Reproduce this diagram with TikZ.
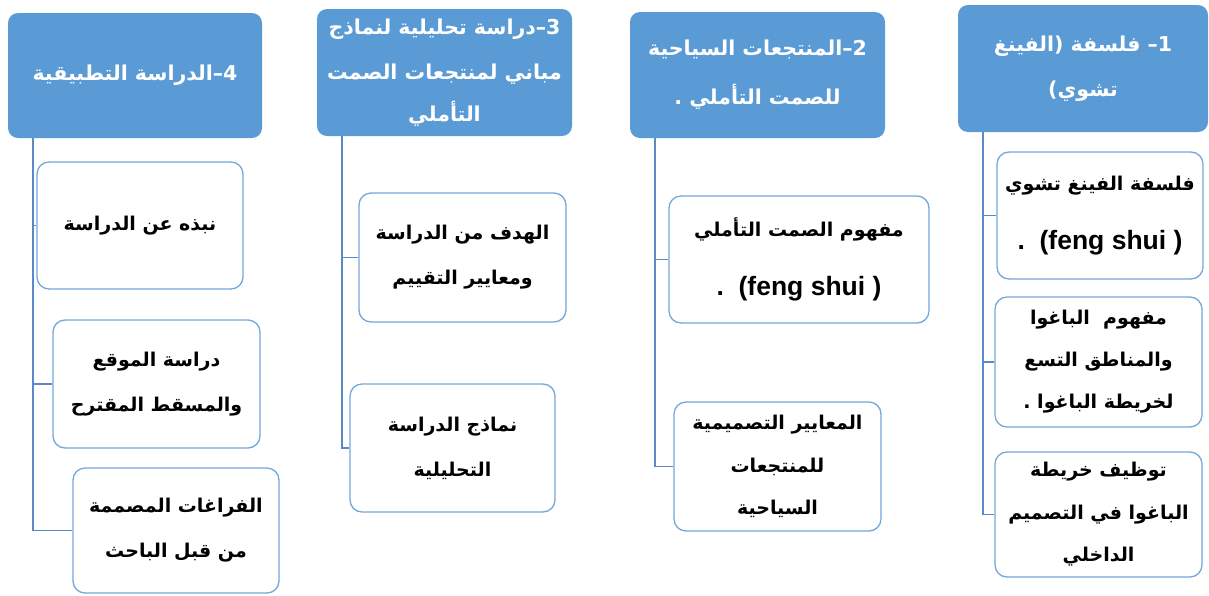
\documentclass[tikz,border=0pt]{standalone}
\usepackage{fontspec}
\TeXXeTstate=1
\newfontfamily\arabicfont[Script=Arabic]{DejaVu Sans}
\newfontfamily\latfont{Liberation Sans}
\newcommand{\ar}[1]{{\arabicfont\bfseries\beginR #1\endR}}
\newcommand{\lt}[1]{{\latfont\bfseries\fontsize{26.5}{30}\selectfont #1}}
\definecolor{headblue}{HTML}{5B9BD5}
\definecolor{linkblue}{HTML}{5A8AC6}
\definecolor{boxline}{HTML}{74A7DA}
\tikzset{
  headbox/.style={draw=none, fill=headblue, rounded corners=10pt, inner sep=0pt, align=center, text=white,
    font={\fontsize{20.5}{45}\selectfont}},
  childbox/.style={draw=boxline, line width=1.3pt, fill=white, rounded corners=12pt, inner sep=0pt, align=center, text=black,
    font={\fontsize{19}{45}\selectfont}},
  link/.style={draw=linkblue, line width=1.6pt}
}
\begin{document}
\begin{tikzpicture}[x=1pt,y=-1pt]
\useasboundingbox (0,0) rectangle (1209,595);
% headers
\node[headbox, minimum width=250pt, minimum height=127pt] (h1) at (1083,68.5)
  {\ar{1– فلسفة (الفينغ}\\\ar{تشوي)}};
\node[headbox, minimum width=255pt, minimum height=126pt] (h2) at (757.5,75)
  {\ar{2–المنتجعات السياحية}\\[4pt]\ar{للصمت التأملي .}};
\node[headbox, minimum width=255pt, minimum height=127pt] (h3) at (444.5,72.5)
  {\ar{3–دراسة تحليلية لنماذج}\\\ar{مباني لمنتجعات الصمت}\\[-3pt]\ar{التأملي}};
\node[headbox, minimum width=254pt, minimum height=125pt] (h4) at (135,75.5)
  {\ar{4–الدراسة التطبيقية}};
% column 1
\node[childbox, minimum width=206pt, minimum height=127pt] (c1a) at (1100,215.5)
  {\ar{فلسفة الفينغ تشوي}\\[14pt]\lt{.~~(feng shui )}};
\node[childbox, minimum width=207pt, minimum height=130pt] (c1b) at (1098.5,362)
  {\ar{مفهوم ~الباغوا}\\[-3pt]\ar{والمناطق التسع}\\[-3pt]\ar{لخريطة الباغوا .}};
\node[childbox, minimum width=207pt, minimum height=125pt] (c1c) at (1098.5,514.5)
  {\ar{توظيف خريطة}\\[-2pt]\ar{الباغوا في التصميم}\\[-3pt]\ar{الداخلي}};
% column 2
\node[childbox, minimum width=260pt, minimum height=127pt] (c2a) at (799,259.5)
  {\ar{مفهوم الصمت التأملي}\\[14pt]\lt{.~~(feng shui )}};
\node[childbox, minimum width=207pt, minimum height=129pt] (c2b) at (777.5,466.5)
  {\ar{المعايير التصميمية}\\[-2pt]\ar{للمنتجعات}\\[-3pt]\ar{السياحية}};
% column 3
\node[childbox, minimum width=207pt, minimum height=129pt] (c3a) at (462.5,257.5)
  {\ar{الهدف من الدراسة}\\\ar{ومعايير التقييم}};
\node[childbox, minimum width=205pt, minimum height=128pt] (c3b) at (452.5,448)
  {\ar{نماذج الدراسة}\\\ar{التحليلية}};
% column 4
\node[childbox, minimum width=206pt, minimum height=127pt] (c4a) at (140,225.5)
  {\ar{نبذه عن الدراسة}};
\node[childbox, minimum width=207pt, minimum height=128pt] (c4b) at (156.5,384)
  {\ar{دراسة الموقع}\\\ar{والمسقط المقترح}};
\node[childbox, minimum width=206pt, minimum height=125pt] (c4c) at (176,530.5)
  {\ar{الفراغات المصممة}\\\ar{من قبل الباحث}};
% trunk start points
\coordinate (t1) at ([xshift=25pt]h1.south west);
\coordinate (t2) at ([xshift=25pt]h2.south west);
\coordinate (t3) at ([xshift=25pt]h3.south west);
\coordinate (t4) at ([xshift=25pt]h4.south west);
% connectors
\draw[link] (t1) |- (c1a.west);
\draw[link] (t1) |- (c1b.west);
\draw[link] (t1) |- (c1c.west);
\draw[link] (t2) |- (c2a.west);
\draw[link] (t2) |- (c2b.west);
\draw[link] (t3) |- (c3a.west);
\draw[link] (t3) |- (c3b.west);
\draw[link] (t4) |- (c4a.west);
\draw[link] (t4) |- (c4b.west);
\draw[link] (t4) |- (c4c.west);
\end{tikzpicture}
\end{document}
